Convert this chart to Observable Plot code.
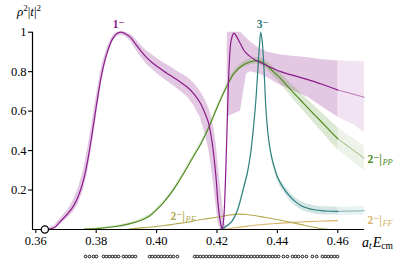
<!DOCTYPE html>
<html><head><meta charset="utf-8">
<script src="https://cdn.jsdelivr.net/npm/d3@7"></script>
<script src="https://cdn.jsdelivr.net/npm/@observablehq/plot@0.6"></script>
<style>body{margin:0;background:#fff} svg{display:block} svg text{font-family:"Liberation Serif","DejaVu Serif",serif !important}</style>
</head><body><div id="chart"></div>
<script>
// ---- data ----
const xTicks = [0.36, 0.38, 0.40, 0.42, 0.44, 0.46];
const yTicks = [0.2, 0.4, 0.6, 0.8, 1];
const thresholdE = [0.3630];

const purpleE = [0.3637,0.3662,0.3681,0.3706,0.3725,0.3741,0.3758,0.3773,0.3788,0.3805,0.3820,0.3837,0.3854,0.3869,0.3884,0.3899,0.3913,0.3928,0.3947,0.3968,0.3990,0.4017,0.4046,0.4076,0.4103,0.4125,0.4145,0.4160,0.4172,0.4182,0.4189,0.4197,0.4204,0.4211,0.4217,0.4222,0.4228,0.4234,0.4240,0.4247,0.4256,0.4264,0.4278,0.4293,0.4311,0.4338,0.4366,0.4411,0.4443,0.4501,0.4550,0.4600,0.4654,0.4688];
const purpleV = [0,0.01,0.04,0.08,0.12,0.17,0.25,0.36,0.50,0.67,0.80,0.90,0.965,0.993,1.0,0.99,0.975,0.945,0.907,0.87,0.84,0.81,0.78,0.75,0.72,0.685,0.64,0.59,0.54,0.46,0.38,0.26,0.12,0.04,0.002,0.05,0.25,0.55,0.82,0.96,0.995,0.98,0.94,0.90,0.875,0.85,0.83,0.80,0.785,0.76,0.735,0.707,0.685,0.67];

const purpleBandE = [0.3637,0.3662,0.3681,0.3706,0.3725,0.3741,0.3758,0.3773,0.3788,0.3805,0.3820,0.3837,0.3854,0.3869,0.3884,0.3899,0.3913,0.3928,0.3947,0.3968,0.3990,0.4017,0.4046,0.4076,0.4103,0.4125,0.4145,0.4160,0.4172,0.4182,0.4189,0.4197,0.4204,0.4211,0.4219,0.4226,0.4233,0.4234,0.4278,0.4298,0.4311,0.4338,0.4366,0.4411,0.4443,0.4501,0.4550,0.4600,0.4654,0.4688];
const purpleLo = [0,0.003,0.025,0.06,0.09,0.13,0.20,0.30,0.44,0.62,0.76,0.875,0.95,0.98,0.985,0.975,0.955,0.92,0.875,0.835,0.805,0.77,0.74,0.705,0.67,0.625,0.565,0.49,0.41,0.31,0.22,0.12,0.03,0,0,0,0,0.57,0.60,0.79,0.80,0.79,0.77,0.73,0.71,0.67,0.62,0.57,0.53,0.49];
const purpleHi = [0.002,0.02,0.055,0.10,0.15,0.21,0.30,0.42,0.56,0.72,0.84,0.925,0.98,1,1,1,0.99,0.97,0.935,0.905,0.88,0.85,0.825,0.795,0.77,0.74,0.70,0.66,0.62,0.57,0.52,0.44,0.33,0.23,0.12,0.03,0,1.0,1.0,0.97,0.95,0.92,0.90,0.885,0.88,0.87,0.86,0.855,0.852,0.85];

const greenE = [0.3760,0.3810,0.3859,0.3913,0.3947,0.3978,0.4013,0.4041,0.4068,0.4096,0.4122,0.4145,0.4168,0.4190,0.4211,0.4234,0.4256,0.4283,0.4311,0.4328,0.4348,0.4366,0.4397,0.4411,0.4443,0.4477,0.4511,0.4543,0.4574,0.4600,0.4644,0.4688];
const greenV = [0.002,0.006,0.014,0.03,0.046,0.07,0.12,0.17,0.23,0.30,0.37,0.43,0.50,0.58,0.655,0.73,0.79,0.83,0.85,0.855,0.85,0.83,0.785,0.765,0.71,0.655,0.60,0.55,0.50,0.46,0.41,0.36];
const greenErr = [0.002,0.003,0.005,0.006,0.007,0.008,0.008,0.009,0.01,0.01,0.01,0.01,0.01,0.011,0.012,0.012,0.013,0.014,0.015,0.016,0.018,0.02,0.025,0.027,0.032,0.038,0.043,0.048,0.053,0.056,0.059,0.062];

const tealE = [0.4209,0.4219,0.4234,0.4249,0.4266,0.4288,0.4301,0.4311,0.4321,0.4328,0.4335,0.4340,0.4345,0.4350,0.4354,0.4358,0.4361,0.4365,0.4370,0.4378,0.4387,0.4402,0.4416,0.4443,0.4477,0.4521,0.4560,0.4600,0.4688];
const tealV = [0,0.005,0.02,0.04,0.09,0.21,0.29,0.38,0.52,0.64,0.80,0.92,1.0,0.95,0.86,0.74,0.64,0.55,0.47,0.39,0.33,0.26,0.22,0.165,0.122,0.10,0.094,0.092,0.095];
const tealErr = [0.002,0.003,0.004,0.005,0.007,0.01,0.012,0.012,0.013,0.013,0.012,0.01,0.008,0.01,0.012,0.013,0.013,0.014,0.015,0.016,0.017,0.018,0.019,0.02,0.021,0.021,0.021,0.021,0.021];

const pfE = [0.3908,0.3948,0.3990,0.4026,0.4061,0.4102,0.4135,0.4168,0.4211,0.4244,0.4273,0.4298,0.4323,0.4348,0.4377,0.4412,0.4446,0.4476,0.4511,0.4543,0.4570,0.4688];
const pfV = [0.002,0.008,0.014,0.02,0.028,0.037,0.047,0.055,0.065,0.074,0.078,0.076,0.071,0.064,0.057,0.047,0.036,0.026,0.014,0.005,0.001,0];

const ffE = [0.4217,0.4254,0.4303,0.4352,0.4402,0.4451,0.4501,0.4550,0.4599,0.4688];
const ffV = [0,0.008,0.017,0.025,0.031,0.036,0.04,0.043,0.045,0.047];

const levelsE = [0.3765,0.3778,0.3791,0.3801,0.3824,0.3834,0.3844,0.3854,0.3864,0.3874,0.3890,0.3900,0.3910,0.3920,0.3930,0.3977,0.3986,0.3996,0.4006,0.4016,0.4026,0.4036,0.4046,0.4056,0.4069,0.4126,0.4135,0.4145,0.4155,0.4165,0.4175,0.4185,0.4195,0.4205,0.4215,0.4225,0.4235,0.4245,0.4255,0.4265,0.4275,0.4284,0.4294,0.4304,0.4314,0.4324,0.4334,0.4344,0.4354,0.4364,0.4374,0.4384,0.4394,0.4404,0.4420,0.4433,0.4450,0.4460,0.4470,0.4483,0.4496,0.4516,0.4530,0.4549,0.4559,0.4569,0.4579,0.4589,0.4599];

// ---- styling ----
const PURPLE = "#8a1a8a", GREEN = "#4d8a1c", TEAL = "#2a7d7d", OLIVE = "#b3ab52", TAN = "#d9b46a";
const SPLIT = 0.46;
const xDomain = [0.35891, 0.46884];

const purple = purpleE.map((E, i) => ({E, v: purpleV[i]}));
const purpleBand = purpleBandE.map((E, i) => ({E, lo: purpleLo[i], hi: purpleHi[i]}));
const green = greenE.map((E, i) => ({E, v: greenV[i], lo: greenV[i] - greenErr[i], hi: greenV[i] + greenErr[i]}));
const teal = tealE.map((E, i) => ({E, v: tealV[i], lo: Math.max(0, tealV[i] - tealErr[i]), hi: tealV[i] + tealErr[i]}));
const pf = pfE.map((E, i) => ({E, v: pfV[i]}));
const ff = ffE.map((E, i) => ({E, v: ffV[i]}));
const levels = levelsE.map(E => ({E}));

const inMain = d => d.E <= SPLIT + 1e-9;
const inExt = d => d.E >= SPLIT - 1e-9;

function bandMarks(data, color, op, curve) {
  return [
    Plot.areaY(data.filter(inMain), {x: "E", y1: "lo", y2: "hi", fill: color, fillOpacity: op, curve}),
    Plot.areaY(data.filter(inExt), {x: "E", y1: "lo", y2: "hi", fill: color, fillOpacity: op * 0.5, curve})
  ];
}
function lineMarks(data, color, w) {
  return [
    Plot.line(data.filter(inMain), {x: "E", y: "v", stroke: color, strokeWidth: w, curve: "catmull-rom"}),
    Plot.line(data.filter(inExt), {x: "E", y: "v", stroke: color, strokeWidth: w * 0.8, strokeOpacity: 0.6, curve: "catmull-rom"})
  ];
}

const serif = "Liberation Serif";

const chart = Plot.plot({
  width: 406, height: 264,
  marginLeft: 32, marginRight: 42, marginTop: 31.7, marginBottom: 35,
  x: {domain: xDomain},
  y: {domain: [0, 1]},
  style: {fontFamily: serif, fontSize: "12px", background: "#fff", color: "#000", overflow: "visible"},
  marks: [
    ...bandMarks(purpleBand, PURPLE, 0.24, "linear"),
    ...bandMarks(green, GREEN, 0.2, "catmull-rom"),
    ...bandMarks(teal, TEAL, 0.2, "catmull-rom"),
    ...lineMarks(ff, TAN, 1.1),
    ...lineMarks(pf, OLIVE, 1.1),
    ...lineMarks(green, GREEN, 1.15),
    ...lineMarks(teal, TEAL, 1.15),
    ...lineMarks(purple, PURPLE, 1.2),
    Plot.ruleX([xDomain[0]], {y1: 0, y2: 1, stroke: "#000", strokeWidth: 1.2}),
    Plot.ruleY([0], {stroke: "#000", strokeWidth: 1.2}),
    Plot.axisY({ticks: yTicks, tickSize: 4, tickPadding: 2, label: null, tickFormat: d => d === 1 ? "1" : d.toFixed(1), strokeWidth: 1.1, fontSize: 12.5}),
    Plot.axisX({ticks: xTicks, tickSize: 4, tickPadding: 3, label: null, tickFormat: d3.format(".2f"), strokeWidth: 1.1, fontSize: 12.5}),
    Plot.dot(thresholdE, {x: d => d, y: () => 0, r: 3.6, fill: "#fff", stroke: "#000", strokeWidth: 1.3}),
    Plot.dot(levels, {x: "E", y: () => -0.137, r: 1.35, fill: "#fff", stroke: "#000", strokeWidth: 0.9}),
    // labels
    Plot.text(["1⁻"], {x: () => 0.3874, y: () => 1.039, fill: PURPLE, fontSize: 11.5, fontWeight: "bold"}),
    Plot.text(["3⁻"], {x: () => 0.4351, y: () => 1.039, fill: TEAL, fontSize: 11.5, fontWeight: "bold"}),
    Plot.text(["2⁻|"], {x: () => 0.4688, y: () => 0.355, dx: 3, textAnchor: "start", fill: GREEN, fontSize: 11.5, fontWeight: "bold"}),
    Plot.text(["PP"], {x: () => 0.4688, y: () => 0.355, dx: 18, dy: 3, textAnchor: "start", fill: GREEN, fontSize: 8.5, fontStyle: "italic"}),
    Plot.text(["2⁻|"], {x: () => 0.4688, y: () => 0.046, dx: 3, textAnchor: "start", fill: TAN, fontSize: 11.5, fontWeight: "bold"}),
    Plot.text(["FF"], {x: () => 0.4688, y: () => 0.046, dx: 18, dy: 3, textAnchor: "start", fill: TAN, fontSize: 8.5, fontStyle: "italic"}),
    Plot.text(["2⁻|"], {x: () => 0.4046, y: () => 0.066, textAnchor: "start", fill: OLIVE, fontSize: 11.5, fontWeight: "bold"}),
    Plot.text(["PF"], {x: () => 0.4046, y: () => 0.066, dx: 15, dy: 3, textAnchor: "start", fill: OLIVE, fontSize: 8.5, fontStyle: "italic"})
  ]
});

// axis titles (math-style text)
const svg = d3.select(chart);
const yt = svg.append("text").attr("x", 17).attr("y", 16).attr("text-anchor", "start").attr("font-size", 13).attr("fill", "#000");
yt.append("tspan").attr("font-style", "italic").text("ρ");
yt.append("tspan").attr("font-size", 9).attr("dy", -5).text("2");
yt.append("tspan").attr("dy", 5).text("|");
yt.append("tspan").attr("font-style", "italic").text("t");
yt.append("tspan").text("|");
yt.append("tspan").attr("font-size", 9).attr("dy", -5).text("2");

const xt = svg.append("text").attr("x", 362).attr("y", 247).attr("text-anchor", "start").attr("font-size", 14).attr("fill", "#000");
xt.append("tspan").attr("font-style", "italic").text("a");
xt.append("tspan").attr("font-size", 9.5).attr("font-style", "italic").attr("dy", 2).text("t");
xt.append("tspan").attr("font-style", "italic").attr("dy", -2).attr("dx", 1).text("E");
xt.append("tspan").attr("font-size", 9.5).attr("dy", 2).text("cm");

document.getElementById("chart").append(chart);
</script>
</body></html>
